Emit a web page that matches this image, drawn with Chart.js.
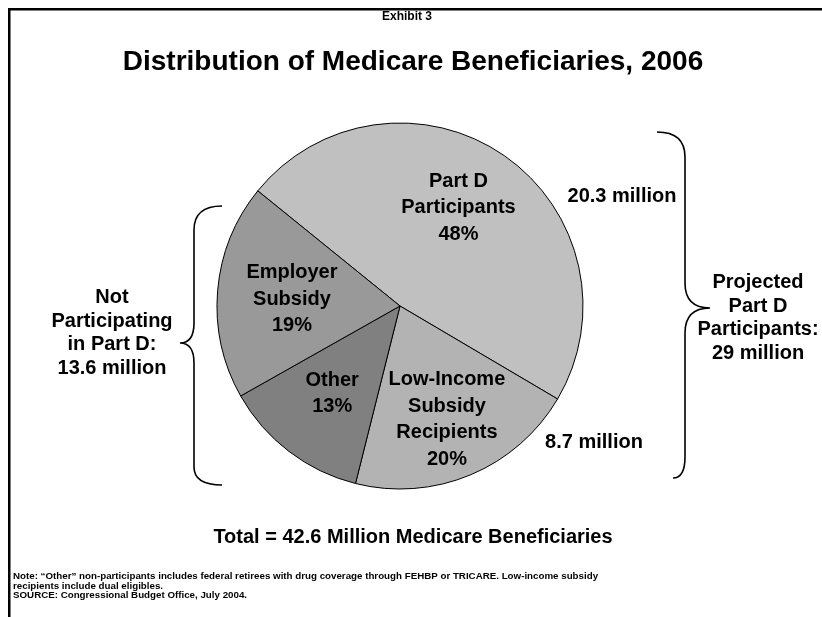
<!DOCTYPE html>
<html>
<head>
<meta charset="utf-8">
<style>
  html, body { margin: 0; padding: 0; background: #ffffff; }
  #wrap { position: relative; width: 822px; height: 617px; }
  canvas { display: block; }
</style>
<script src="https://cdn.jsdelivr.net/npm/chart.js@4.4.1/dist/chart.umd.min.js"></script>
</head>
<body>
<div id="wrap"><canvas id="chart" width="822" height="617"></canvas></div>
<script>
// Medicare beneficiaries in 2006, millions, clockwise from the Part D slice
const categories = ['Part D Participants', 'Low-Income Subsidy Recipients', 'Other', 'Employer Subsidy'];
const sliceLines = [['Part D', 'Participants'], ['Low-Income', 'Subsidy', 'Recipients'], ['Other'], ['Employer', 'Subsidy']];
const beneficiaries = [20.3, 8.7, 5.5, 8.1];
const participating = [true, true, false, false];
const sliceColors = ['#c0c0c0', '#b3b3b3', '#808080', '#999999'];

const exhibitText = 'Exhibit 3';
const titleText = 'Distribution of Medicare Beneficiaries, 2006';
const noteLines = [
  'Note: \u201cOther\u201d non-participants includes federal retirees with drug coverage through FEHBP or TRICARE. Low-income subsidy',
  'recipients include dual eligibles.',
  'SOURCE: Congressional Budget Office, July 2004.'
];

const FONT = '"Liberation Sans", Arial, Helvetica, sans-serif';
const total = beneficiaries.reduce((a, b) => a + b, 0);
const fmt = v => (Math.round(v * 10) / 10).toString();
const partDTotal = beneficiaries.filter((v, i) => participating[i]).reduce((a, b) => a + b, 0);
const notPartTotal = beneficiaries.filter((v, i) => !participating[i]).reduce((a, b) => a + b, 0);

// label placement inside each slice: fraction of radius and angular nudge (deg)
const labelPlace = [{ r: 0.63, da: -4.3 }, { r: 0.665, da: 0 }, { r: 0.60, da: 0.8 }, { r: 0.592, da: -0.6 }];

function drawLines(ctx, lines, x, y, step) {
  const y0 = y - (lines.length - 1) * step / 2;
  lines.forEach((t, i) => ctx.fillText(t, x, y0 + i * step));
}

function drawBrace(ctx, spineX, tipX, endTopX, yTop, yTip, yBot, endBotX, c1, c2, c3) {
  ctx.beginPath();
  ctx.moveTo(endTopX, yTop);
  ctx.quadraticCurveTo(spineX, yTop, spineX, yTop + c1);
  ctx.lineTo(spineX, yTip - c2);
  ctx.quadraticCurveTo(spineX, yTip, tipX, yTip);
  ctx.quadraticCurveTo(spineX, yTip, spineX, yTip + c2);
  ctx.lineTo(spineX, yBot - c3);
  ctx.quadraticCurveTo(spineX, yBot, endBotX, yBot);
  ctx.stroke();
}

const decorations = {
  id: 'decorations',
  beforeDraw(chart) {
    const ctx = chart.ctx;
    ctx.save();
    ctx.fillStyle = '#ffffff';
    ctx.fillRect(0, 0, chart.width, chart.height);
    // frame rules along top and left
    ctx.fillStyle = '#000000';
    ctx.fillRect(8, 8, chart.width - 8, 2.5);
    ctx.fillRect(8, 8, 2.5, chart.height - 8);
    ctx.restore();
  },
  afterDatasetsDraw(chart) {
    const ctx = chart.ctx;
    const arcs = chart.getDatasetMeta(0).data;
    ctx.save();
    ctx.fillStyle = '#000000';
    ctx.textAlign = 'center';
    ctx.textBaseline = 'middle';

    // slice labels
    ctx.font = 'bold 20px ' + FONT;
    arcs.forEach((arc, i) => {
      const p = arc.getProps(['x', 'y', 'startAngle', 'endAngle', 'outerRadius'], true);
      const mid = (p.startAngle + p.endAngle) / 2 + labelPlace[i].da * Math.PI / 180;
      const rr = p.outerRadius * labelPlace[i].r;
      const lx = p.x + Math.cos(mid) * rr;
      const ly = p.y + Math.sin(mid) * rr;
      const pct = Math.round(beneficiaries[i] / total * 100) + '%';
      drawLines(ctx, sliceLines[i].concat([pct]), lx, ly + 1, 26.5);
    });

    // side annotations
    ctx.fillText(fmt(beneficiaries[0]) + ' million', 622, 196);
    ctx.fillText(fmt(beneficiaries[1]) + ' million', 594, 442);
    drawLines(ctx, ['Projected', 'Part D', 'Participants:', fmt(partDTotal) + ' million'], 758, 318, 23.5);
    drawLines(ctx, ['Not', 'Participating', 'in Part D:', fmt(notPartTotal) + ' million'], 112, 333, 23.5);

    // braces
    ctx.strokeStyle = '#000000';
    ctx.lineWidth = 1.6;
    drawBrace(ctx, 685, 710, 657, 132, 308, 478, 673, 25, 25, 21);
    drawBrace(ctx, 194, 180, 222, 206, 343, 485, 222, 24, 20, 18);

    // titles
    ctx.font = 'bold 12px ' + FONT;
    ctx.fillText(exhibitText, 407, 17);
    ctx.font = 'bold 28px ' + FONT;
    ctx.fillText(titleText, 413, 62);
    ctx.font = 'bold 20px ' + FONT;
    ctx.fillText('Total = ' + fmt(total) + ' Million Medicare Beneficiaries', 413, 537);

    // notes
    ctx.textAlign = 'left';
    ctx.font = 'bold 9.75px ' + FONT;
    noteLines.forEach((t, i) => ctx.fillText(t, 13, 576 + i * 9.9));
    ctx.restore();
  }
};

new Chart(document.getElementById('chart'), {
  type: 'pie',
  data: {
    labels: categories,
    datasets: [{
      data: beneficiaries,
      backgroundColor: sliceColors,
      borderColor: '#000000',
      borderWidth: 1,
      radius: 183
    }]
  },
  options: {
    responsive: false,
    animation: false,
    rotation: -51,
    layout: { padding: { left: 217, right: 239, top: 123, bottom: 128 } },
    plugins: {
      legend: { display: false },
      tooltip: { enabled: false },
      title: { display: false }
    }
  },
  plugins: [decorations]
});
</script>
</body>
</html>
